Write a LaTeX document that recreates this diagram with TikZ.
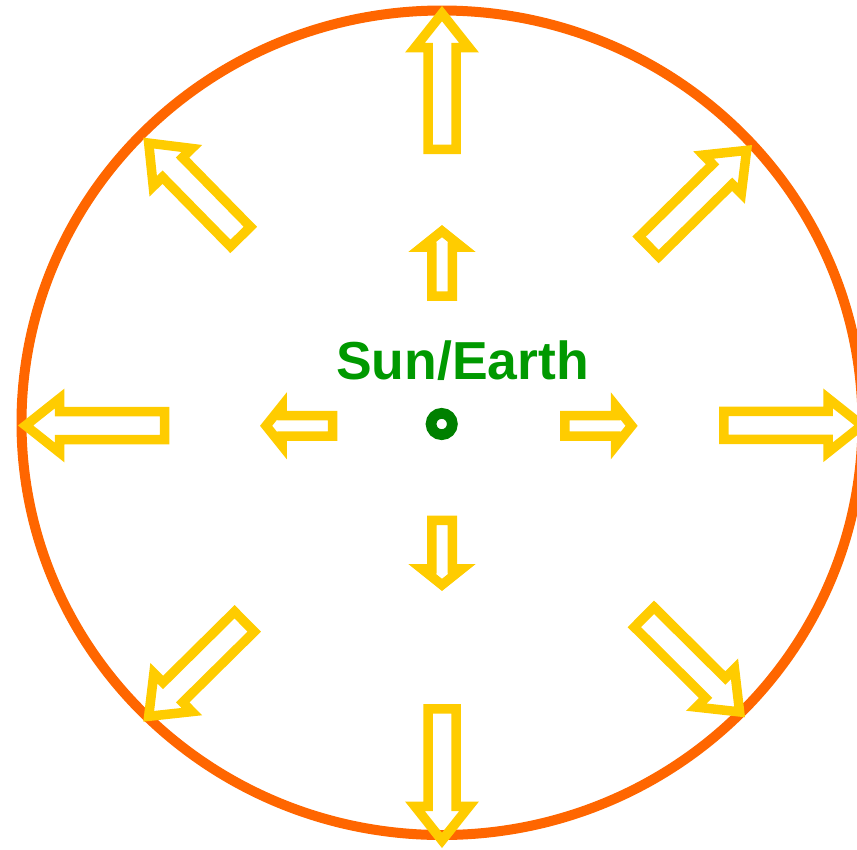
\documentclass[tikz,border=0pt]{standalone}
\usepackage{fontspec}
\setmainfont{Liberation Sans}
\usepackage{tikz}
\usetikzlibrary{calc}

\definecolor{rimorange}{HTML}{FF6600}
\definecolor{rayyellow}{HTML}{FFCC00}
\definecolor{labelgreen}{HTML}{009900}
\definecolor{dotgreen}{HTML}{008000}

% hollow block arrow: tail, tip, shaft half width, head half width, head length
\newcommand{\blockarrow}[5]{%
  \coordinate (#1-base) at ($(#2)!#5!(#1)$);
  \draw[sunray]
    ($(#1)!#3!90:(#2)$) -- ($(#1-base)!#3!90:(#2)$) -- ($(#1-base)!#4!90:(#2)$)
    -- (#2) -- ($(#1-base)!#4!-90:(#2)$) -- ($(#1-base)!#3!-90:(#2)$)
    -- ($(#1)!#3!-90:(#2)$) -- cycle;
}

\begin{document}
\begin{tikzpicture}[x=1pt, y=-1pt,
  rim/.style={draw=rimorange, line width=10pt},
  sunray/.style={draw=rayyellow, line width=9.5pt, line join=miter},
  sundot/.style={draw=dotgreen, circle, line width=10.7pt, minimum size=21.3pt, inner sep=0pt},
  sunlabel/.style={text=labelgreen, inner sep=0pt, anchor=base,
    font=\bfseries\fontsize{53.5}{60}\selectfont}]
\useasboundingbox (0,0) rectangle (857,849);

% Sphere
\draw[rim] (442,422.75) ellipse [x radius=420.5, y radius=412.25];

% Centre
\node[sundot] (sun) at (441.7,424) {};
\node[sunlabel] (name) at (462.5,379) {Sun/Earth};

% Outer rays (tails and tips)
\coordinate (nt) at (442,149.3);   \coordinate (np) at (442,13.6);
\coordinate (st) at (442,708.75);  \coordinate (sp) at (442,840.4);
\coordinate (wt) at (164.5,425.5); \coordinate (wp) at (25.6,425.5);
\coordinate (et) at (723.75,425.3); \coordinate (ep) at (862,425.3);
\coordinate (net) at (648.9,246.6); \coordinate (nep) at (746.6,150.4);
\coordinate (nwt) at (240.4,236.6); \coordinate (nwp) at (148.7,143.1);
\coordinate (swt) at (244.4,621.7); \coordinate (swp) at (148.7,716.3);
\coordinate (set) at (644.2,617.2); \coordinate (sep) at (739.6,711.9);

\blockarrow{nt}{np}{14pt}{27pt}{34pt}
\blockarrow{st}{sp}{14pt}{27pt}{34pt}
\blockarrow{wt}{wp}{14pt}{27pt}{34pt}
\blockarrow{et}{ep}{14pt}{27pt}{34pt}
\blockarrow{net}{nep}{14pt}{27pt}{34pt}
\blockarrow{nwt}{nwp}{14pt}{27pt}{34pt}
\blockarrow{swt}{swp}{14pt}{27pt}{34pt}
\blockarrow{set}{sep}{14pt}{27pt}{34pt}

% Inner rays
\coordinate (in-nt) at (442,296);   \coordinate (in-np) at (442,231.1);
\coordinate (in-st) at (442,520.4); \coordinate (in-sp) at (442,584.9);
\coordinate (in-wt) at (332.5,425.8); \coordinate (in-wp) at (266.1,425.8);
\coordinate (in-et) at (564.75,425.8); \coordinate (in-ep) at (631.6,425.8);

\blockarrow{in-nt}{in-np}{10.25pt}{20pt}{16pt}
\blockarrow{in-st}{in-sp}{10.25pt}{20pt}{16pt}
\blockarrow{in-wt}{in-wp}{10.25pt}{20pt}{16pt}
\blockarrow{in-et}{in-ep}{10.25pt}{20pt}{16pt}
\end{tikzpicture}
\end{document}
